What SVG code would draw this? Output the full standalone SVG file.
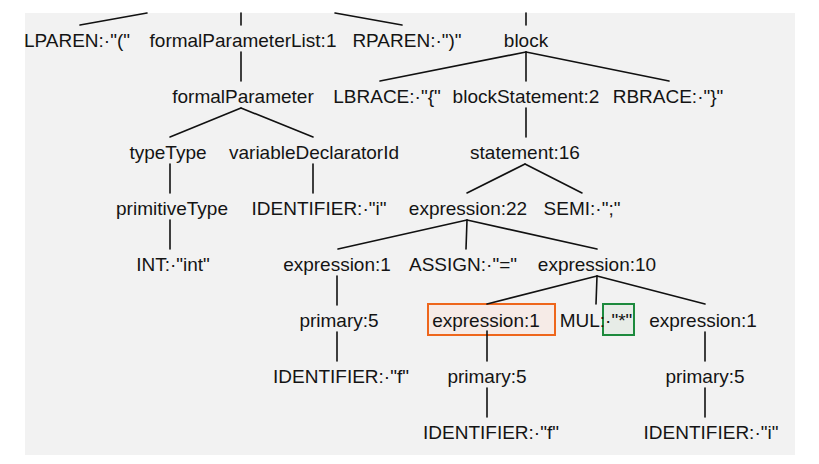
<svg xmlns="http://www.w3.org/2000/svg" width="819" height="464" viewBox="0 0 819 464">
<style>
  text { font-family: "Liberation Sans", Arial, sans-serif; font-size: 19px; fill: #141414; text-anchor: middle; }
  #connectors line { stroke: #111; stroke-width: 1.6; stroke-linecap: round; }
  .hl-orange { fill: #f6ebe7; stroke: #ee661c; stroke-width: 2; }
  .hl-green { fill: #e7ece7; stroke: #1d8a3d; stroke-width: 2; }
</style>
<rect x="0" y="0" width="819" height="464" fill="#ffffff"/>
<rect x="25" y="13" width="770" height="442" fill="#f2f2f2"/>
<g id="highlights">
  <rect class="hl-orange" x="428" y="304" width="127" height="31"/>
  <rect class="hl-green" x="603" y="304" width="31" height="31"/>
</g>
<g id="connectors">
  <line x1="147" y1="13" x2="80" y2="25"/>
  <line x1="241" y1="13" x2="241" y2="25"/>
  <line x1="335" y1="13" x2="402" y2="25"/>
  <line x1="526" y1="13" x2="526" y2="25"/>
  <line x1="241" y1="52" x2="241" y2="81"/>
  <line x1="526" y1="52" x2="380" y2="81"/>
  <line x1="526" y1="52" x2="526" y2="81"/>
  <line x1="526" y1="52" x2="669" y2="81"/>
  <line x1="241" y1="108" x2="170" y2="137"/>
  <line x1="241" y1="108" x2="313" y2="137"/>
  <line x1="526" y1="108" x2="526" y2="137"/>
  <line x1="170" y1="164" x2="170" y2="193"/>
  <line x1="313" y1="164" x2="313" y2="193"/>
  <line x1="525" y1="164" x2="467" y2="193"/>
  <line x1="525" y1="164" x2="582" y2="193"/>
  <line x1="170" y1="220" x2="170" y2="249"/>
  <line x1="467" y1="220" x2="338" y2="249"/>
  <line x1="467" y1="220" x2="466" y2="249"/>
  <line x1="467" y1="220" x2="597" y2="249"/>
  <line x1="337" y1="276" x2="337" y2="305"/>
  <line x1="597" y1="276" x2="487" y2="304"/>
  <line x1="597" y1="276" x2="596" y2="304"/>
  <line x1="597" y1="276" x2="705" y2="304"/>
  <line x1="337" y1="332" x2="337" y2="361"/>
  <line x1="487" y1="331" x2="487" y2="361"/>
  <line x1="705" y1="332" x2="705" y2="361"/>
  <line x1="487" y1="388" x2="487" y2="417"/>
  <line x1="705" y1="388" x2="705" y2="417"/>
</g>
<g id="n_lparen"><text x="77" y="47">LPAREN:·"("</text></g>
<g id="n_formalParameterList"><text x="243" y="47">formalParameterList:1</text></g>
<g id="n_rparen"><text x="407" y="47">RPAREN:·")"</text></g>
<g id="n_block"><text x="526" y="47">block</text></g>
<g id="n_formalParameter"><text x="243" y="103">formalParameter</text></g>
<g id="n_lbrace"><text x="387" y="103">LBRACE:·"{"</text></g>
<g id="n_blockStatement"><text x="526" y="103">blockStatement:2</text></g>
<g id="n_rbrace"><text x="668" y="103">RBRACE:·"}"</text></g>
<g id="n_typeType"><text x="168" y="159">typeType</text></g>
<g id="n_variableDeclaratorId"><text x="314" y="159">variableDeclaratorId</text></g>
<g id="n_statement"><text x="525" y="159">statement:16</text></g>
<g id="n_primitiveType"><text x="172" y="215">primitiveType</text></g>
<g id="n_identifier_i1"><text x="319" y="215">IDENTIFIER:·"i"</text></g>
<g id="n_expression22"><text x="468" y="215">expression:22</text></g>
<g id="n_semi"><text x="582" y="215">SEMI:·";"</text></g>
<g id="n_int"><text x="173" y="271">INT:·"int"</text></g>
<g id="n_expression1a"><text x="337" y="271">expression:1</text></g>
<g id="n_assign"><text x="463" y="271">ASSIGN:·"="</text></g>
<g id="n_expression10"><text x="597" y="271">expression:10</text></g>
<g id="n_primary_a"><text x="339" y="327">primary:5</text></g>
<g id="n_expression1b"><text x="486" y="327">expression:1</text></g>
<g id="n_mul"><text x="596" y="327">MUL:·"*"</text></g>
<g id="n_expression1c"><text x="703" y="327">expression:1</text></g>
<g id="n_identifier_f1"><text x="341" y="383">IDENTIFIER:·"f"</text></g>
<g id="n_primary_b"><text x="487" y="383">primary:5</text></g>
<g id="n_primary_c"><text x="705" y="383">primary:5</text></g>
<g id="n_identifier_f2"><text x="491" y="439">IDENTIFIER:·"f"</text></g>
<g id="n_identifier_i2"><text x="711" y="439">IDENTIFIER:·"i"</text></g>
</svg>
